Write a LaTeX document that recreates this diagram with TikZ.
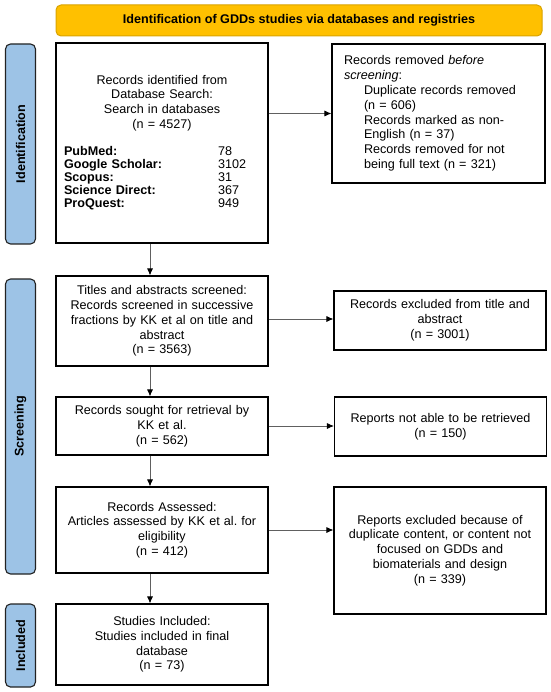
\documentclass[tikz,border=0pt]{standalone}
\usepackage{fontspec}
\setmainfont{Liberation Sans}
\usetikzlibrary{arrows.meta}
\frenchspacing
\definecolor{bannerfill}{HTML}{FFC000}
\definecolor{bannerdraw}{HTML}{D9A300}
\definecolor{sidefill}{HTML}{9DC3E6}
\definecolor{sidedraw}{HTML}{222222}
\definecolor{linegray}{HTML}{606060}
\begin{document}
\begin{tikzpicture}[x=1pt,y=-1pt,
  txt/.style={font=\fontsize{12.6}{14.8}\selectfont\frenchspacing},
  box/.style={txt,draw=black,line width=1.1pt,fill=white,align=center,
    minimum width=212pt,text width=200pt,inner xsep=6pt,inner ysep=2pt},
  rbox/.style={box,minimum width=212pt,text width=200pt},
  side/.style={draw=sidedraw,line width=1.1pt,fill=sidefill,rounded corners=5pt,
    minimum width=30pt,inner sep=0pt},
  sidelabel/.style={font=\fontsize{12.6}{14.8}\selectfont\bfseries,rotate=90},
  conn/.style={draw=linegray,line width=0.8pt,-{Latex[length=7pt,width=6pt,color=black]}}
]
\useasboundingbox (0,0) rectangle (550,692);

% banner
\node[draw=bannerdraw,line width=1pt,fill=bannerfill,rounded corners=5pt,
  minimum width=486pt,minimum height=31pt,inner sep=0pt,
  font=\fontsize{12.6}{14.8}\selectfont\bfseries] (banner) at (299,20.5)
  {Identification of GDDs studies via databases and registries};

% side bars
\node[side,minimum height=200pt] (sid) at (20.5,144) {};
\node[sidelabel] (sidt) at (sid.center) {Identification};
\node[side,minimum height=295pt] (sscr) at (20.5,426.5) {};
\node[sidelabel] (sscrt) at (sscr.center) {Screening};
\node[side,minimum height=83pt] (sinc) at (20.5,645.5) {};
\node[sidelabel] (sinct) at (sinc.center) {Included};

% left column
\node[box,minimum height=200pt] (b1) at (162,143) {Records identified from\\Database Search:\\Search in databases\\(n = 4527)\\[14pt]
{\renewcommand{\arraystretch}{0.87}%
\begin{tabular}{@{}p{154pt}@{}p{42pt}@{}}
\textbf{PubMed:} & 78\\
\textbf{Google Scholar:} & 3102\\
\textbf{Scopus:} & 31\\
\textbf{Science Direct:} & 367\\
\textbf{ProQuest:} & 949
\end{tabular}}};

\node[box,minimum height=90pt] (b2) at (162,321) {Titles and abstracts screened:\\Records screened in successive\\fractions by KK et al on title and\\abstract\\(n = 3563)};

\node[box,minimum height=58pt] (b3) at (162,426) {Records sought for retrieval by\\KK et al.\\(n = 562)};

\node[box,minimum height=86pt] (b4) at (162,530) {Records Assessed:\\Articles assessed by KK et al. for\\eligibility\\(n = 412)};

\node[box,minimum height=81pt] (b5) at (162,644.5) {Studies Included:\\Studies included in final\\database\\(n = 73)};

% right column
\node[box,align=left,minimum width=213pt,text width=189pt,inner xsep=12pt,minimum height=139pt] (r1) at (438.5,113.5)
{Records removed \textit{before}\\\textit{screening}:\\
\hspace*{20pt}Duplicate records removed\\
\hspace*{20pt}(n = 606)\\
\hspace*{20pt}Records marked as non-\\
\hspace*{20pt}English (n = 37)\\
\hspace*{20pt}Records removed for not\\
\hspace*{20pt}being full text (n = 321)};

\node[rbox,minimum height=59pt] (r2) at (440,320.5) {Records excluded from title and\\abstract\\(n = 3001)};

\node[rbox,minimum height=59pt] (r3) at (440.5,426.5) {Reports not able to be retrieved\\(n = 150)};

\node[rbox,minimum height=127pt] (r4) at (440,550.5) {Reports excluded because of\\duplicate content, or content not\\focused on GDDs and\\biomaterials and design\\(n = 339)};

% connectors
\coordinate (ax) at (150,0);
\draw[conn] (b1.south -| ax) -- (b2.north -| ax);
\draw[conn] (b2.south -| ax) -- (b3.north -| ax);
\draw[conn] (b3.south -| ax) -- (b4.north -| ax);
\draw[conn] (b4.south -| ax) -- (b5.north -| ax);

\draw[conn] (b1.east |- r1.west) -- (r1.west);
\draw[conn] ([yshift=2pt]b2.east) -- ([yshift=2pt]b2.east -| r2.west);
\draw[conn] (b3.east) -- (b3.east -| r3.west);
\draw[conn] (b4.east) -- (b4.east -| r4.west);
\end{tikzpicture}
\end{document}
